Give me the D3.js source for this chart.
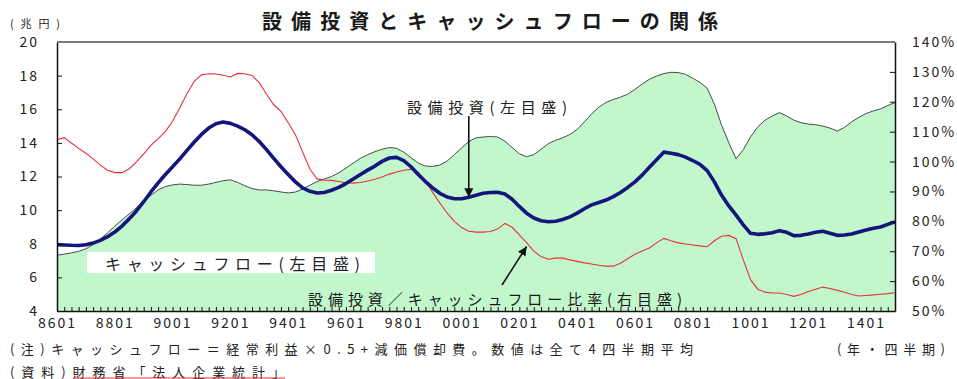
<!DOCTYPE html>
<html>
<head>
<meta charset="utf-8">
<script src="https://cdn.jsdelivr.net/npm/d3@7"></script>
<style>
  html, body { margin: 0; padding: 0; background: #fff; }
  svg { display: block; font-family: "Noto Sans CJK JP", "Noto Sans", sans-serif; }
</style>
</head>
<body>
<svg id="chart" width="957" height="379"></svg>
<script>
// Quarterly series, 1986Q1 .. 2015Q1 (4-quarter averages)
const tickLabels = ["8601","8801","9001","9201","9401","9601","9801","0001","0201","0401","0601","0801","1001","1201","1401"];

// Cash flow (trillion yen, left axis)
const cashFlow = [
  7.32, 7.38, 7.46, 7.55, 7.70, 7.95, 8.28, 8.65, 9.05, 9.42,
  9.78, 10.15, 10.52, 10.88, 11.20, 11.40, 11.50, 11.55, 11.52, 11.48,
  11.48, 11.55, 11.65, 11.75, 11.80, 11.65, 11.45, 11.28, 11.20, 11.20,
  11.15, 11.08, 11.02, 11.08, 11.25, 11.48, 11.70, 11.85, 12.00, 12.22,
  12.50, 12.80, 13.08, 13.30, 13.48, 13.62, 13.72, 13.68, 13.45, 13.12,
  12.80, 12.62, 12.60, 12.68, 12.92, 13.30, 13.70, 14.08, 14.30, 14.35,
  14.38, 14.35, 14.10, 13.72, 13.35, 13.18, 13.30, 13.62, 13.95, 14.15,
  14.30, 14.50, 14.80, 15.25, 15.72, 16.12, 16.40, 16.58, 16.72, 16.90,
  17.18, 17.50, 17.78, 17.98, 18.12, 18.20, 18.18, 18.08, 17.85, 17.60,
  17.25, 16.30, 15.05, 14.00, 13.05, 13.60, 14.35, 14.95, 15.35, 15.60,
  15.80, 15.60, 15.35, 15.20, 15.12, 15.08, 15.00, 14.88, 14.70, 14.92,
  15.25, 15.52, 15.75, 15.90, 16.02, 16.22, 16.40
];

// Capital investment (trillion yen, left axis)
const capex = [
  7.95, 7.93, 7.91, 7.90, 7.94, 8.04, 8.20, 8.42, 8.70, 9.05,
  9.48, 9.95, 10.50, 11.08, 11.62, 12.12, 12.58, 13.05, 13.55, 14.05,
  14.50, 14.88, 15.14, 15.24, 15.16, 15.00, 14.78, 14.48, 14.08, 13.60,
  13.08, 12.58, 12.12, 11.68, 11.32, 11.12, 11.02, 11.05, 11.18, 11.35,
  11.58, 11.85, 12.12, 12.38, 12.62, 12.90, 13.10, 13.14, 12.95, 12.58,
  12.12, 11.70, 11.32, 11.00, 10.78, 10.68, 10.68, 10.76, 10.88, 11.00,
  11.05, 11.06, 10.96, 10.65, 10.22, 9.82, 9.53, 9.37, 9.31, 9.34,
  9.44, 9.60, 9.82, 10.08, 10.31, 10.45, 10.60, 10.80, 11.05, 11.35,
  11.68, 12.08, 12.55, 13.00, 13.45, 13.38, 13.30, 13.15, 12.95, 12.72,
  12.35, 11.68, 10.88, 10.25, 9.70, 9.12, 8.62, 8.56, 8.59, 8.66,
  8.78, 8.68, 8.48, 8.50, 8.58, 8.68, 8.74, 8.62, 8.50, 8.52,
  8.58, 8.70, 8.82, 8.92, 9.00, 9.15, 9.30
];

// Capital investment / cash flow ratio (%, right axis)
const ratio = [
  107.3, 108.0, 106.2, 104.4, 102.8, 100.9, 98.8, 97.1, 96.3, 96.3,
  97.6, 99.9, 102.6, 105.4, 107.7, 110.0, 113.5, 118.0, 122.8, 126.8,
  129.0, 129.4, 129.3, 128.9, 128.3, 129.5, 129.4, 128.8, 126.4, 122.5,
  119.0, 116.8, 113.0, 109.0, 103.2, 97.5, 94.2, 93.8, 93.7, 93.3,
  92.9, 92.8, 93.0, 93.5, 94.1, 94.8, 95.8, 96.5, 97.1, 97.4,
  96.4, 93.5, 89.7, 86.1, 82.8, 80.0, 77.9, 76.7, 76.4, 76.4,
  76.6, 77.4, 79.3, 78.0, 75.5, 72.9, 70.0, 68.2, 67.3, 67.7,
  67.7, 67.1, 66.6, 66.1, 65.7, 65.3, 65.0, 65.0, 66.0, 67.5,
  69.0, 70.1, 71.1, 72.8, 74.3, 73.5, 72.8, 72.4, 72.1, 71.8,
  71.5, 73.5, 75.0, 75.3, 74.2, 67.1, 60.5, 57.3, 56.3, 56.0,
  56.0, 55.5, 54.9, 55.5, 56.5, 57.3, 58.0, 57.5, 56.9, 56.3,
  55.5, 55.0, 55.2, 55.4, 55.6, 55.8, 56.1
];

const leftTicks = [4, 6, 8, 10, 12, 14, 16, 18, 20];
const rightTicks = [50, 60, 70, 80, 90, 100, 110, 120, 130, 140];

const svg = d3.select("#chart");
const P = { left: 57, right: 895, top: 42, bottom: 311 };
const n = cashFlow.length;

const x = d3.scaleLinear().domain([0, n - 1]).range([P.left, P.right]);
const yL = d3.scaleLinear().domain([4, 20]).range([P.bottom, P.top]);
const yR = d3.scaleLinear().domain([50, 140]).range([P.bottom, P.top]);

svg.append("rect").attr("width", 957).attr("height", 379).attr("fill", "#fff");

// cash flow area + outline
svg.append("path")
  .datum(cashFlow)
  .attr("fill", "#c2f7cc")
  .attr("d", d3.area().x((d, i) => x(i)).y0(yL(4)).y1(d => yL(d)));
svg.append("path")
  .datum(cashFlow)
  .attr("fill", "none").attr("stroke", "#4a4a4a").attr("stroke-width", 1)
  .attr("d", d3.line().x((d, i) => x(i)).y(d => yL(d)));

// ratio line (right axis)
svg.append("path")
  .datum(ratio)
  .attr("fill", "none").attr("stroke", "#e8303a").attr("stroke-width", 1.1)
  .attr("d", d3.line().x((d, i) => x(i)).y(d => yR(d)));

// capital investment line (left axis)
svg.append("path")
  .datum(capex)
  .attr("fill", "none").attr("stroke", "#15157e").attr("stroke-width", 3.6)
  .attr("stroke-linejoin", "round")
  .attr("d", d3.line().x((d, i) => x(i)).y(d => yL(d)));

// axes
const numFont = g => g.selectAll("text")
  .attr("font-size", 14).attr("fill", "#222").attr("letter-spacing", "2px")
  .attr("font-family", "'Noto Sans CJK JP', sans-serif");

svg.append("g")
  .attr("transform", `translate(${P.left},0)`)
  .call(d3.axisLeft(yL).tickValues(leftTicks).tickSize(-5).tickPadding(18).tickSizeOuter(0))
  .call(g => g.select(".domain").attr("stroke", "#111").attr("stroke-width", 1.5))
  .call(g => g.selectAll(".tick line").attr("stroke", "#111"))
  .call(numFont);

svg.append("g")
  .attr("transform", `translate(${P.right},0)`)
  .call(d3.axisRight(yR).tickValues(rightTicks).tickSize(-5).tickPadding(17).tickSizeOuter(0)
    .tickFormat(d => d + "%"))
  .call(g => g.select(".domain").attr("stroke", "#111").attr("stroke-width", 1.5))
  .call(g => g.selectAll(".tick line").attr("stroke", "#111"))
  .call(numFont);

// quarterly minor ticks on the category axis
svg.append("g")
  .attr("transform", `translate(0,${P.bottom})`)
  .call(d3.axisBottom(x).tickValues(d3.range(n)).tickSize(-4).tickFormat("").tickSizeOuter(0))
  .call(g => g.select(".domain").attr("stroke", "#111").attr("stroke-width", 1.5))
  .call(g => g.selectAll(".tick line").attr("stroke", "#111"));

// year labels every 8 quarters
svg.append("g")
  .attr("transform", `translate(0,${P.bottom})`)
  .call(d3.axisBottom(x).tickValues(tickLabels.map((t, k) => k * 8)).tickSize(0).tickPadding(7)
    .tickFormat((d, k) => tickLabels[k]))
  .call(g => g.select(".domain").remove())
  .call(numFont);

// top frame
svg.append("line")
  .attr("x1", P.left).attr("x2", P.right).attr("y1", P.top).attr("y2", P.top)
  .attr("stroke", "#7a7a7a").attr("stroke-width", 2);

// title and units
svg.append("text")
  .attr("x", 262).attr("y", 20).attr("dominant-baseline", "central")
  .attr("font-size", 20).attr("font-weight", "bold").attr("fill", "#1a1a1a")
  .attr("textLength", 456).attr("lengthAdjust", "spacing")
  .text("設備投資とキャッシュフローの関係");

svg.append("text")
  .attr("x", 10).attr("y", 23).attr("dominant-baseline", "central")
  .attr("font-size", 11).attr("fill", "#222")
  .attr("textLength", 50).attr("lengthAdjust", "spacing")
  .text("(兆円)");

// arrow head marker
const defs = svg.append("defs");
defs.append("marker")
  .attr("id", "head").attr("viewBox", "0 0 10 10")
  .attr("refX", 10).attr("refY", 5)
  .attr("markerWidth", 9).attr("markerHeight", 9)
  .attr("markerUnits", "userSpaceOnUse")
  .attr("orient", "auto")
  .append("path").attr("d", "M0,0 L10,5 L0,10 z").attr("fill", "#111");

// capex label and arrow
svg.append("text")
  .attr("x", 407).attr("y", 106).attr("dominant-baseline", "central")
  .attr("font-size", 15).attr("fill", "#222")
  .attr("textLength", 160).attr("lengthAdjust", "spacing")
  .text("設備投資(左目盛)");
const ax1 = 57, ay1 = yL(capex[57]);
svg.append("line")
  .attr("x1", x(ax1)).attr("y1", 116).attr("x2", x(ax1)).attr("y2", ay1)
  .attr("stroke", "#111").attr("stroke-width", 1.6).attr("marker-end", "url(#head)");

// cash flow label box
svg.append("rect")
  .attr("x", 87).attr("y", 252).attr("width", 288).attr("height", 21).attr("fill", "#fff");
svg.append("text")
  .attr("x", 105).attr("y", 262.5).attr("dominant-baseline", "central")
  .attr("font-size", 16).attr("fill", "#222")
  .attr("textLength", 255).attr("lengthAdjust", "spacing")
  .text("キャッシュフロー(左目盛)");

// ratio label and arrow
svg.append("text")
  .attr("x", 308).attr("y", 298).attr("dominant-baseline", "central")
  .attr("font-size", 15).attr("fill", "#1a1a1a")
  .attr("textLength", 374).attr("lengthAdjust", "spacing")
  .text("設備投資／キャッシュフロー比率(右目盛)");
svg.append("line")
  .attr("x1", 502).attr("y1", 285).attr("x2", x(65)).attr("y2", yR(ratio[65]) + 4)
  .attr("stroke", "#111").attr("stroke-width", 1.6).attr("marker-end", "url(#head)");

// notes
svg.append("text")
  .attr("x", 10).attr("y", 348).attr("dominant-baseline", "central")
  .attr("font-size", 13).attr("fill", "#222")
  .attr("textLength", 683).attr("lengthAdjust", "spacing")
  .text("(注)キャッシュフロー＝経常利益×0.5+減価償却費。数値は全て4四半期平均");
svg.append("text")
  .attr("x", 837).attr("y", 348).attr("dominant-baseline", "central")
  .attr("font-size", 13).attr("fill", "#222")
  .attr("textLength", 108).attr("lengthAdjust", "spacing")
  .text("(年・四半期)");
svg.append("text")
  .attr("x", 10).attr("y", 371).attr("dominant-baseline", "central")
  .attr("font-size", 13).attr("fill", "#222")
  .attr("textLength", 275).attr("lengthAdjust", "spacing")
  .text("(資料)財務省「法人企業統計」");
svg.append("line")
  .attr("x1", 73).attr("x2", 285).attr("y1", 378).attr("y2", 378)
  .attr("stroke", "#e8303a").attr("stroke-width", 1);
</script>
</body>
</html>
